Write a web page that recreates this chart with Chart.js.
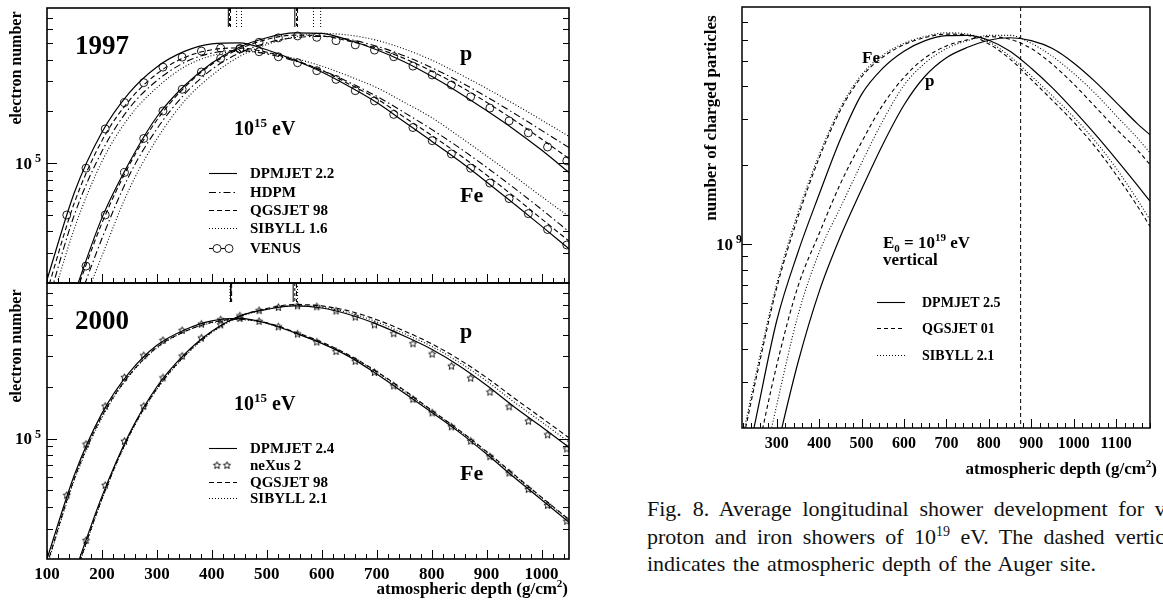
<!DOCTYPE html>
<html>
<head>
<meta charset="utf-8">
<script src="https://cdn.jsdelivr.net/npm/chart.js@4.4.1/dist/chart.umd.min.js"></script>
<style>
html, body { margin: 0; padding: 0; background: #fff; width: 1163px; height: 603px; overflow: hidden; position: relative; }
canvas { position: absolute; }
.cap { position: absolute; left: 647px; font: 22px "Liberation Serif", "Times New Roman", serif; white-space: nowrap; color: #111; word-spacing: 2px; }
.cap sup { font-size: 14px; vertical-align: 8px; line-height: 0; }
</style>
</head>
<body>
<canvas id="c97" width="600" height="300" style="left:0;top:0"></canvas>
<canvas id="c00" width="600" height="333" style="left:0;top:270px"></canvas>
<canvas id="cAug" width="523" height="490" style="left:640px;top:0"></canvas>
<div class="cap" style="top:496px;word-spacing:5.3px">Fig. 8. Average longitudinal shower development for vertical</div>
<div class="cap" style="top:524px;word-spacing:4.9px">proton and iron showers of 10<sup>19</sup> eV. The dashed vertical line</div>
<div class="cap" style="top:551px">indicates the atmospheric depth of the Auger site.</div>
<script>
// atmospheric depth grids (g/cm2)
const depthFe = [100, 150, 200, 250, 300, 350, 400, 450, 500, 550, 600, 650, 700, 750, 800, 850, 900, 950, 1000, 1050];
const depthP = [150, 200, 250, 300, 350, 400, 450, 500, 550, 600, 650, 700, 750, 800, 850, 900, 950, 1000, 1050];
const depthMarkFe = [136, 171, 206, 241, 276, 311, 346, 381, 416, 451, 486, 521, 556, 591, 626, 661, 696, 731, 766, 801, 836, 871, 906, 941, 976, 1011, 1046];
const depthMarkP = [171, 206, 241, 276, 311, 346, 381, 416, 451, 486, 521, 556, 591, 626, 661, 696, 731, 766, 801, 836, 871, 906, 941, 976, 1011, 1046];
const depthAug = [220, 250, 300, 350, 400, 450, 500, 550, 600, 650, 700, 750, 800, 850, 900, 950, 1000, 1050, 1100, 1150, 1180];

// 1997 panel, electron number
const fe97Dpmjet = [2.09e4, 6.76e4, 1.51e5, 2.57e5, 3.63e5, 4.47e5, 4.95e5, 5.01e5, 4.57e5, 3.98e5, 3.39e5, 2.79e5, 2.25e5, 1.74e5, 1.34e5, 1.03e5, 7.76e4, 5.78e4, 4.29e4, 3.16e4];
const p97Dpmjet = [1.74e4, 4.79e4, 1.01e5, 1.86e5, 2.82e5, 3.83e5, 4.73e5, 5.37e5, 5.73e5, 5.69e5, 5.19e5, 4.57e5, 3.89e5, 3.20e5, 2.57e5, 2.02e5, 1.57e5, 1.19e5, 8.81e4];
const fe97Hdpm = [1.48e4, 5.01e4, 1.17e5, 2.09e5, 3.02e5, 3.85e5, 4.37e5, 4.52e5, 4.32e5, 3.94e5, 3.47e5, 2.95e5, 2.45e5, 1.97e5, 1.57e5, 1.23e5, 9.44e4, 7.16e4, 5.37e4, 3.98e4];
const p97Hdpm = [1.35e4, 3.63e4, 8.51e4, 1.58e5, 2.51e5, 3.51e5, 4.37e5, 5.01e5, 5.37e5, 5.47e5, 5.25e5, 4.79e5, 4.22e5, 3.59e5, 2.99e5, 2.43e5, 1.95e5, 1.55e5, 1.23e5];
const fe97Qgsjet = [1.78e4, 5.89e4, 1.35e5, 2.32e5, 3.31e5, 4.12e5, 4.57e5, 4.68e5, 4.42e5, 3.98e5, 3.47e5, 2.88e5, 2.37e5, 1.85e5, 1.45e5, 1.12e5, 8.51e4, 6.38e4, 4.73e4, 3.51e4];
const p97Qgsjet = [1.66e4, 4.47e4, 9.77e4, 1.78e5, 2.75e5, 3.76e5, 4.62e5, 5.25e5, 5.56e5, 5.50e5, 5.13e5, 4.66e5, 4.07e5, 3.43e5, 2.82e5, 2.26e5, 1.78e5, 1.38e5, 1.06e5];
const fe97Sibyll = [1.26e4, 4.17e4, 1.02e5, 1.86e5, 2.75e5, 3.63e5, 4.22e5, 4.47e5, 4.37e5, 4.07e5, 3.67e5, 3.20e5, 2.75e5, 2.26e5, 1.84e5, 1.43e5, 1.10e5, 8.41e4, 6.38e4, 4.88e4];
const p97Sibyll = [1.12e4, 2.88e4, 7.08e4, 1.38e5, 2.29e5, 3.24e5, 4.17e5, 4.90e5, 5.43e5, 5.69e5, 5.56e5, 5.19e5, 4.62e5, 3.98e5, 3.31e5, 2.72e5, 2.21e5, 1.78e5, 1.43e5];
const fe97Venus = [4.98e4, 9.33e4, 1.58e5, 2.25e5, 2.94e5, 3.62e5, 4.14e5, 4.49e5, 4.67e5, 4.65e5, 4.45e5, 4.16e5, 3.84e5, 3.45e5, 3.07e5, 2.64e5, 2.30e5, 1.92e5, 1.61e5, 1.35e5, 1.13e5, 9.33e4, 7.64e4, 6.21e4, 5.07e4, 4.10e4, 3.33e4];
const p97Venus = [2.51e4, 4.98e4, 8.81e4, 1.39e5, 2.01e5, 2.69e5, 3.39e5, 4.07e5, 4.61e5, 5.05e5, 5.36e5, 5.50e5, 5.40e5, 5.16e5, 4.88e5, 4.55e5, 4.16e5, 3.67e5, 3.26e5, 2.85e5, 2.43e5, 2.09e5, 1.76e5, 1.50e5, 1.24e5, 1.03e5];
// shower maximum markers on the top edge (Fe, p)
const xmax97Dpmjet = [430, 551];
const xmax97Venus = [432, 554];
const xmax97Qgsjet = [434, 556];
const xmax97Hdpm = [445, 585];
const xmax97Sibyll = [454, 598];

// 2000 panel
const fe00Dpmjet = [2.00e4, 6.17e4, 1.40e5, 2.42e5, 3.48e5, 4.27e5, 4.82e5, 4.98e5, 4.68e5, 4.12e5, 3.57e5, 2.99e5, 2.37e5, 1.84e5, 1.42e5, 1.09e5, 8.13e4, 5.96e4, 4.42e4, 3.27e4];
const p00Dpmjet = [1.66e4, 4.62e4, 1.07e5, 2.00e5, 3.08e5, 4.20e5, 5.13e5, 5.62e5, 5.89e5, 5.73e5, 5.25e5, 4.62e5, 3.94e5, 3.30e5, 2.65e5, 2.04e5, 1.53e5, 1.17e5, 8.91e4];
const fe00Qgsjet = [1.86e4, 5.89e4, 1.35e5, 2.34e5, 3.39e5, 4.17e5, 4.73e5, 4.93e5, 4.70e5, 4.17e5, 3.63e5, 3.05e5, 2.45e5, 1.91e5, 1.46e5, 1.12e5, 8.41e4, 6.19e4, 4.57e4, 3.39e4];
const p00Qgsjet = [1.58e4, 4.47e4, 1.05e5, 1.95e5, 3.02e5, 4.17e5, 5.13e5, 5.69e5, 6.00e5, 5.89e5, 5.50e5, 4.90e5, 4.22e5, 3.55e5, 2.88e5, 2.26e5, 1.72e5, 1.32e5, 1.01e5];
const fe00Sibyll = [1.82e4, 5.75e4, 1.32e5, 2.32e5, 3.35e5, 4.17e5, 4.70e5, 4.90e5, 4.66e5, 4.12e5, 3.59e5, 3.02e5, 2.43e5, 1.88e5, 1.45e5, 1.11e5, 8.32e4, 6.12e4, 4.53e4, 3.37e4];
const p00Sibyll = [1.55e4, 4.42e4, 1.04e5, 1.93e5, 2.99e5, 4.12e5, 5.07e5, 5.62e5, 5.92e5, 5.79e5, 5.37e5, 4.76e5, 4.07e5, 3.43e5, 2.77e5, 2.16e5, 1.63e5, 1.25e5, 9.55e4];
const fe00Nexus = [4.68e4, 9.27e4, 1.54e5, 2.26e5, 3.03e5, 3.71e5, 4.24e5, 4.61e5, 4.89e5, 4.98e5, 4.79e5, 4.45e5, 4.04e5, 3.63e5, 3.20e5, 2.81e5, 2.42e5, 2.02e5, 1.69e5, 1.41e5, 1.17e5, 9.66e4, 7.85e4, 6.31e4, 5.07e4, 4.09e4, 3.31e4];
const p00Nexus = [2.56e4, 5.35e4, 9.64e4, 1.54e5, 2.25e5, 3.01e5, 3.83e5, 4.57e5, 5.15e5, 5.53e5, 5.77e5, 5.89e5, 5.82e5, 5.50e5, 5.07e5, 4.57e5, 4.06e5, 3.55e5, 3.09e5, 2.63e5, 2.24e5, 1.86e5, 1.53e5, 1.26e5, 1.05e5, 8.71e4];
const xmax00Dpmjet = [434, 548];
const xmax00Nexus = [435, 551];
const xmax00Qgsjet = [436, 554];
const xmax00Sibyll = [433, 556];

// 10^19 eV vertical showers, number of charged particles
const feAugDpmjet = [1.26e8, 2.14e8, 5.13e8, 9.33e8, 1.55e9, 2.51e9, 3.72e9, 4.68e9, 5.43e9, 5.96e9, 6.22e9, 6.24e9, 5.98e9, 5.43e9, 4.68e9, 3.94e9, 3.24e9, 2.63e9, 2.11e9, 1.68e9, 1.46e9];
const feAugQgsjet = [1.78e8, 3.02e8, 6.84e8, 1.27e9, 2.13e9, 3.24e9, 4.34e9, 5.16e9, 5.75e9, 6.12e9, 6.31e9, 6.24e9, 5.79e9, 5.07e9, 4.24e9, 3.53e9, 2.92e9, 2.36e9, 1.84e9, 1.40e9, 1.17e9];
const feAugSibyll = [1.86e8, 3.16e8, 7.08e8, 1.32e9, 2.19e9, 3.31e9, 4.42e9, 5.25e9, 5.82e9, 6.19e9, 6.38e9, 6.31e9, 5.89e9, 5.19e9, 4.37e9, 3.67e9, 3.05e9, 2.48e9, 1.95e9, 1.48e9, 1.24e9];
const pAugDpmjet = [4.57e7, 7.59e7, 1.66e8, 3.55e8, 6.61e8, 1.07e9, 1.62e9, 2.40e9, 3.39e9, 4.37e9, 5.13e9, 5.62e9, 5.98e9, 6.11e9, 5.96e9, 5.56e9, 4.90e9, 4.17e9, 3.47e9, 2.88e9, 2.61e9];
const pAugQgsjet = [8.51e7, 1.48e8, 3.47e8, 6.92e8, 1.10e9, 1.70e9, 2.45e9, 3.39e9, 4.32e9, 5.13e9, 5.69e9, 6.00e9, 6.17e9, 6.03e9, 5.56e9, 4.84e9, 4.07e9, 3.35e9, 2.75e9, 2.29e9, 2.01e9];
const pAugSibyll = [6.31e7, 1.05e8, 2.45e8, 5.37e8, 9.33e8, 1.38e9, 2.04e9, 2.95e9, 4.03e9, 4.90e9, 5.56e9, 5.96e9, 6.24e9, 6.24e9, 5.82e9, 5.19e9, 4.47e9, 3.76e9, 3.09e9, 2.54e9, 2.23e9];
const augerDepth = 875;

const xTicksLeft = [100, 200, 300, 400, 500, 600, 700, 800, 900, 1000];
const xTicksAug = [300, 400, 500, 600, 700, 800, 900, 1000, 1100];

const SERIF = '"Liberation Serif", "Times New Roman", serif';
const SOLID = [], DASHED = [5, 3], DOTTED = [1, 2], DASHDOT = [7, 3, 1.5, 3];

function font(size) { return 'bold ' + size + 'px ' + SERIF; }

// hollow five-point star for the neXus points
function starSprite(r) {
    const c = document.createElement('canvas');
    const s = Math.ceil(2 * r + 3);
    c.width = c.height = s;
    const g = c.getContext('2d');
    g.strokeStyle = '#000';
    g.lineWidth = 0.9;
    g.beginPath();
    for (let i = 0; i < 10; i++) {
        const ang = -Math.PI / 2 + i * Math.PI / 5;
        const rr = i % 2 ? r * 0.45 : r;
        g.lineTo(s / 2 + rr * Math.cos(ang), s / 2 + rr * Math.sin(ang));
    }
    g.closePath();
    g.stroke();
    return c;
}
const STAR = starSprite(3.8);

function lineSet(xs, ys, dash, width) {
    return {
        data: xs.map((x, i) => ({ x: x, y: ys[i] })),
        borderColor: '#000',
        borderWidth: width || 1.1,
        borderDash: dash,
        pointRadius: 0,
        fill: false,
        cubicInterpolationMode: 'monotone'
    };
}

function markerSet(xs, ys, style, r) {
    return {
        data: xs.map((x, i) => ({ x: x, y: ys[i] })),
        showLine: false,
        pointStyle: style,
        pointRadius: r,
        pointBorderColor: '#000',
        pointBackgroundColor: 'rgba(0,0,0,0)',
        pointBorderWidth: 0.9
    };
}

function drawParts(ctx, x, y, parts, align) {
    let w = 0;
    parts.forEach(p => { ctx.font = font(p[1]); w += ctx.measureText(p[0]).width; });
    let cx = align === 'right' ? x - w : x;
    ctx.textAlign = 'left';
    ctx.textBaseline = 'alphabetic';
    parts.forEach(p => {
        ctx.font = font(p[1]);
        ctx.fillText(p[0], cx, y + (p[2] || 0));
        cx += ctx.measureText(p[0]).width;
    });
}

function seg(ctx, x0, y0, x1, y1) {
    ctx.beginPath();
    ctx.moveTo(x0, y0);
    ctx.lineTo(x1, y1);
    ctx.stroke();
}

// frame, inward ticks, labels, legend and notes, ROOT style
function decorPlugin(d) {
    return {
        id: 'decor',
        afterDatasetsDraw(chart) {
            const { ctx, chartArea: a, scales: { x, y } } = chart;
            const ox = d.ox || 0, oy = d.oy || 0;
            ctx.save();
            ctx.strokeStyle = '#000';
            ctx.fillStyle = '#000';

            if (d.vline) {
                const px = x.getPixelForValue(d.vline);
                ctx.lineWidth = 1;
                ctx.setLineDash([4, 3]);
                seg(ctx, px, a.top, px, a.bottom);
            }
            (d.marks || []).forEach(m => {
                ctx.lineWidth = 1;
                ctx.setLineDash(m.dash);
                m.at.forEach(v => {
                    const px = x.getPixelForValue(v);
                    seg(ctx, px, a.top, px, a.top + 19);
                });
            });
            ctx.setLineDash([]);

            ctx.lineWidth = d.frameW;
            ctx.strokeRect(a.left, a.top, a.right - a.left, a.bottom - a.top);

            ctx.lineWidth = 1;
            for (let v = d.xTickFrom; v <= x.max + 0.01; v += 20) {
                const px = Math.round(x.getPixelForValue(v)) + 0.5;
                const len = v % 100 === 0 ? 9 : 5;
                seg(ctx, px, a.bottom, px, a.bottom - len);
            }
            const d0 = Math.floor(Math.log10(y.min)), d1 = Math.ceil(Math.log10(y.max));
            for (let e = d0; e <= d1; e++) {
                for (let m = 1; m <= 9; m++) {
                    const v = m * Math.pow(10, e);
                    if (v <= y.min * 1.001 || v >= y.max * 0.999) continue;
                    const py = Math.round(y.getPixelForValue(v)) + 0.5;
                    const len = m === 1 ? 10 : 6;
                    seg(ctx, a.left, py, a.left + len, py);
                    if (d.rightTicks) seg(ctx, a.right, py, a.right - len, py);
                }
            }

            ctx.font = font(d.xLabelSize);
            ctx.textAlign = 'center';
            ctx.textBaseline = 'alphabetic';
            (d.xLabels || []).forEach(v => {
                ctx.fillText(String(v), x.getPixelForValue(v), d.xLabelY - oy);
            });

            const yl = d.yLabel;
            const py = y.getPixelForValue(yl.value);
            ctx.font = font(yl.size);
            ctx.textAlign = 'right';
            ctx.fillText('10', yl.tenRight - ox, py + yl.size * 0.33);
            ctx.font = font(yl.expSize);
            ctx.textAlign = 'left';
            ctx.fillText(yl.exp, yl.tenRight - ox + 3, py - 1);

            (d.texts || []).forEach(t => drawParts(ctx, t.x - ox, t.y - oy, t.parts, t.align));

            (d.rotated || []).forEach(t => {
                ctx.save();
                ctx.translate(t.x - ox, t.y - oy);
                ctx.rotate(-Math.PI / 2);
                ctx.font = font(t.size);
                ctx.textAlign = 'center';
                ctx.textBaseline = 'middle';
                ctx.fillText(t.text, 0, 0);
                ctx.restore();
            });

            const lg = d.legend;
            lg.rows.forEach(r => {
                const ry = r.y - oy + 0.5;
                const x0 = lg.x0 - ox, x1 = lg.x1 - ox;
                ctx.lineWidth = 1.1;
                if (r.marker === 'circle') {
                    ctx.setLineDash([]);
                    seg(ctx, x0, ry, x0 + 4, ry);
                    seg(ctx, x0 + 12, ry, x0 + 16, ry);
                    ctx.lineWidth = 0.9;
                    [x0 + 8, x0 + 20].forEach(cx => {
                        ctx.beginPath();
                        ctx.arc(cx, ry, 4, 0, Math.PI * 2);
                        ctx.stroke();
                    });
                } else if (r.marker === 'star') {
                    [x0 + 8, x0 + 18].forEach(cx => {
                        ctx.drawImage(STAR, cx - STAR.width / 2, ry - STAR.height / 2);
                    });
                } else {
                    ctx.setLineDash(r.dash);
                    seg(ctx, x0, ry, x1, ry);
                    ctx.setLineDash([]);
                }
                ctx.font = font(lg.size);
                ctx.textAlign = 'left';
                ctx.textBaseline = 'alphabetic';
                ctx.fillText(r.label, lg.tx - ox, r.y - oy + lg.size * 0.34);
            });
            ctx.restore();
        }
    };
}

function makeChart(id, datasets, xr, yr, pad, deco) {
    return new Chart(document.getElementById(id), {
        type: 'line',
        data: { datasets: datasets },
        options: {
            responsive: false,
            animation: false,
            events: [],
            layout: { padding: pad },
            scales: {
                x: { type: 'linear', min: xr[0], max: xr[1], display: false },
                y: { type: 'logarithmic', min: yr[0], max: yr[1], display: false }
            },
            plugins: { legend: { display: false }, tooltip: { enabled: false } }
        },
        plugins: [decorPlugin(deco)]
    });
}

const eV15 = [['10', 20], ['15', 13, -8], [' eV', 20]];
const depthTitle = [['atmospheric depth (g/cm', 17], ['2', 11, -7], [')', 17]];

// top left: 1997
makeChart('c97', [
    lineSet(depthFe, fe97Dpmjet, SOLID, 1.2),
    lineSet(depthP, p97Dpmjet, SOLID, 1.2),
    lineSet(depthFe, fe97Hdpm, DASHDOT),
    lineSet(depthP, p97Hdpm, DASHDOT),
    lineSet(depthFe, fe97Qgsjet, DASHED),
    lineSet(depthP, p97Qgsjet, DASHED),
    lineSet(depthFe, fe97Sibyll, DOTTED),
    lineSet(depthP, p97Sibyll, DOTTED),
    markerSet(depthMarkFe, fe97Venus, 'circle', 4),
    markerSet(depthMarkP, p97Venus, 'circle', 4)
], [100, 1050], [2e4, 8e5], { left: 47, top: 8, right: 31, bottom: 17 }, {
    frameW: 1.6, xTickFrom: 100, rightTicks: true,
    marks: [
        { at: xmax97Dpmjet, dash: SOLID }, { at: xmax97Venus, dash: [3, 2] },
        { at: xmax97Qgsjet, dash: DASHED }, { at: xmax97Hdpm, dash: DOTTED },
        { at: xmax97Sibyll, dash: DOTTED }
    ],
    yLabel: { value: 1e5, tenRight: 32, size: 17, expSize: 12, exp: '5' },
    texts: [
        { x: 75, y: 54, parts: [['1997', 27]] },
        { x: 234, y: 135, parts: eV15 },
        { x: 460, y: 60, parts: [['p', 22]] },
        { x: 460, y: 202, parts: [['Fe', 22]] }
    ],
    rotated: [{ x: 17, y: 68, text: 'electron number', size: 16 }],
    legend: {
        x0: 209, x1: 237, tx: 250, size: 15,
        rows: [
            { y: 173, label: 'DPMJET 2.2', dash: SOLID },
            { y: 192, label: 'HDPM', dash: DASHDOT },
            { y: 210, label: 'QGSJET 98', dash: DASHED },
            { y: 228, label: 'SIBYLL 1.6', dash: DOTTED },
            { y: 248, label: 'VENUS', marker: 'circle' }
        ]
    }
});

// bottom left: 2000
makeChart('c00', [
    lineSet(depthFe, fe00Dpmjet, SOLID, 1.2),
    lineSet(depthP, p00Dpmjet, SOLID, 1.2),
    lineSet(depthFe, fe00Qgsjet, DASHED),
    lineSet(depthP, p00Qgsjet, DASHED),
    lineSet(depthFe, fe00Sibyll, DOTTED),
    lineSet(depthP, p00Sibyll, DOTTED),
    markerSet(depthMarkFe, fe00Nexus, STAR, 4),
    markerSet(depthMarkP, p00Nexus, STAR, 4)
], [100, 1050], [2e4, 8e5], { left: 47, top: 13, right: 31, bottom: 44 }, {
    oy: 270, frameW: 1.6, xTickFrom: 100, rightTicks: true,
    marks: [
        { at: xmax00Dpmjet, dash: SOLID }, { at: xmax00Nexus, dash: [3, 2] },
        { at: xmax00Qgsjet, dash: DASHED }, { at: xmax00Sibyll, dash: DOTTED }
    ],
    xLabels: xTicksLeft, xLabelY: 579, xLabelSize: 17,
    yLabel: { value: 1e5, tenRight: 32, size: 17, expSize: 12, exp: '5' },
    texts: [
        { x: 75, y: 329, parts: [['2000', 27]] },
        { x: 234, y: 410, parts: eV15 },
        { x: 460, y: 338, parts: [['p', 22]] },
        { x: 460, y: 480, parts: [['Fe', 22]] },
        { x: 568, y: 594, parts: depthTitle, align: 'right' }
    ],
    rotated: [{ x: 17, y: 346, text: 'electron number', size: 16 }],
    legend: {
        x0: 209, x1: 237, tx: 250, size: 15,
        rows: [
            { y: 448, label: 'DPMJET 2.4', dash: SOLID },
            { y: 465, label: 'neXus 2', marker: 'star' },
            { y: 482, label: 'QGSJET 98', dash: DASHED },
            { y: 498, label: 'SIBYLL 2.1', dash: DOTTED }
        ]
    }
});

// right: 10^19 eV vertical showers and the Auger depth
const AUG_DASH = [4, 3];
makeChart('cAug', [
    lineSet(depthAug, feAugDpmjet, SOLID, 1.2),
    lineSet(depthAug, feAugQgsjet, AUG_DASH),
    lineSet(depthAug, feAugSibyll, DOTTED),
    lineSet(depthAug, pAugDpmjet, SOLID, 1.2),
    lineSet(depthAug, pAugQgsjet, AUG_DASH),
    lineSet(depthAug, pAugSibyll, DOTTED)
], [218, 1180], [2e8, 8e9], { left: 102, top: 7, right: 13, bottom: 62 }, {
    ox: 640, frameW: 1.5, xTickFrom: 220, rightTicks: false,
    vline: augerDepth,
    xLabels: xTicksAug, xLabelY: 448, xLabelSize: 16,
    yLabel: { value: 1e9, tenRight: 733, size: 17, expSize: 12, exp: '9' },
    texts: [
        { x: 862, y: 63, parts: [['Fe', 17]] },
        { x: 925, y: 86, parts: [['p', 17]] },
        { x: 883, y: 248, parts: [['E', 17], ['0', 11, 4], [' = 10', 17], ['19', 11, -7], [' eV', 17]] },
        { x: 883, y: 265, parts: [['vertical', 17]] },
        { x: 1157, y: 474, parts: depthTitle, align: 'right' }
    ],
    rotated: [{ x: 712, y: 118, text: 'number of charged particles', size: 17 }],
    legend: {
        x0: 877, x1: 905, tx: 922, size: 14,
        rows: [
            { y: 302, label: 'DPMJET 2.5', dash: SOLID },
            { y: 328, label: 'QGSJET 01', dash: AUG_DASH },
            { y: 355, label: 'SIBYLL 2.1', dash: DOTTED }
        ]
    }
});
</script>
</body>
</html>
